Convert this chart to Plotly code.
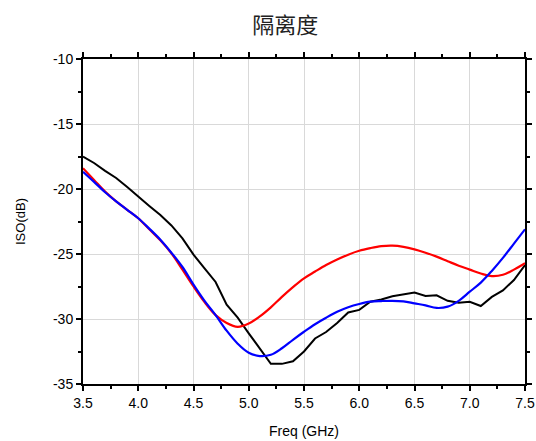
import plotly.graph_objects as go

freq = [3.5, 3.6, 3.7, 3.8, 3.9, 4.0, 4.1, 4.2, 4.3, 4.4, 4.5, 4.6, 4.7, 4.8, 4.9, 5.0,
        5.1, 5.2, 5.3, 5.4, 5.5, 5.6, 5.7, 5.8, 5.9, 6.0, 6.1, 6.2, 6.3, 6.4, 6.5, 6.6,
        6.7, 6.8, 6.9, 7.0, 7.1, 7.2, 7.3, 7.4, 7.5]

iso_black = [-17.5, -18.0, -18.6, -19.15, -19.85, -20.6, -21.3, -22.0, -22.8, -23.8, -25.05,
             -26.1, -27.15, -28.9, -29.9, -31.1, -32.3, -33.45, -33.45, -33.25, -32.5,
             -31.5, -31.0, -30.3, -29.5, -29.3, -28.67, -28.5, -28.25, -28.1, -27.97,
             -28.23, -28.18, -28.6, -28.75, -28.67, -29.0, -28.3, -27.8, -27.0, -25.85]

iso_red = [-18.4, -19.3, -20.2, -20.95, -21.6, -22.25, -23.1, -23.95, -24.95, -26.2, -27.5,
           -28.7, -29.7, -30.3, -30.6, -30.35, -29.8, -29.1, -28.3, -27.55, -26.87,
           -26.35, -25.85, -25.42, -25.05, -24.75, -24.55, -24.4, -24.36, -24.45, -24.64,
           -24.9, -25.2, -25.55, -25.9, -26.2, -26.5, -26.7, -26.6, -26.2, -25.7]

iso_blue = [-18.67, -19.45, -20.25, -20.95, -21.6, -22.25, -23.05, -23.9, -24.9, -26.0, -27.35,
            -28.6, -29.7, -30.9, -31.9, -32.6, -32.85, -32.75, -32.25, -31.6, -30.98,
            -30.4, -29.9, -29.45, -29.1, -28.85, -28.67, -28.62, -28.6, -28.65, -28.8,
            -28.95, -29.15, -29.05, -28.6, -27.9, -27.2, -26.3, -25.3, -24.2, -23.1]

x_ticks = [3.5, 4.0, 4.5, 5.0, 5.5, 6.0, 6.5, 7.0, 7.5]
x_ticklabels = ["3.5", "4.0", "4.5", "5.0", "5.5", "6.0", "6.5", "7.0", "7.5"]
y_ticks = [-35, -30, -25, -20, -15, -10]
y_ticklabels = ["-35", "-30", "-25", "-20", "-15", "-10"]

fig = go.Figure()
fig.add_trace(go.Scatter(x=freq, y=iso_black, mode="lines",
                         line=dict(color="black", width=2), showlegend=False))
fig.add_trace(go.Scatter(x=freq, y=iso_red, mode="lines",
                         line=dict(color="#ff0000", width=2.2, shape="spline"), showlegend=False))
fig.add_trace(go.Scatter(x=freq, y=iso_blue, mode="lines",
                         line=dict(color="#0000ff", width=2.2, shape="spline"), showlegend=False))

axis_common = dict(
    showline=True, linecolor="black", linewidth=2, mirror="ticks",
    ticks="outside", ticklen=5, tickwidth=2, tickcolor="black",
    showgrid=True, gridcolor="#d9d9d9", gridwidth=1, zeroline=False,
    automargin=False,
    tickfont=dict(family="Liberation Sans, Arial", size=14, color="black"),
)

fig.update_layout(
    width=536, height=441,
    margin=dict(l=83, r=11, t=59, b=57),
    paper_bgcolor="white", plot_bgcolor="white",
    title=dict(text="隔离度", x=0.532, xanchor="center", y=0.943, yanchor="middle",
               font=dict(family="Noto Sans CJK SC", size=22, color="#222222"),
               automargin=False),
    xaxis=dict(range=[3.5, 7.5], tickmode="array", tickvals=x_ticks, ticktext=x_ticklabels,
               minor=dict(dtick=0.25, ticks="outside", ticklen=3, tickwidth=2, tickcolor="black", showgrid=False),
               title=dict(text="Freq (GHz)", font=dict(family="Liberation Sans, Arial", size=14, color="black"), standoff=16),
               **axis_common),
    yaxis=dict(range=[-35, -10], tickmode="array", tickvals=y_ticks, ticktext=y_ticklabels,
               minor=dict(dtick=2.5, ticks="outside", ticklen=3, tickwidth=2, tickcolor="black", showgrid=False),
               title=dict(text="ISO(dB)", font=dict(family="Liberation Sans, Arial", size=13, color="black"), standoff=24),
               **axis_common),
)

fig.write_html("out.html", config={"displayModeBar": False},
               post_script="document.body.style.margin='0';document.body.style.overflow='hidden';")
